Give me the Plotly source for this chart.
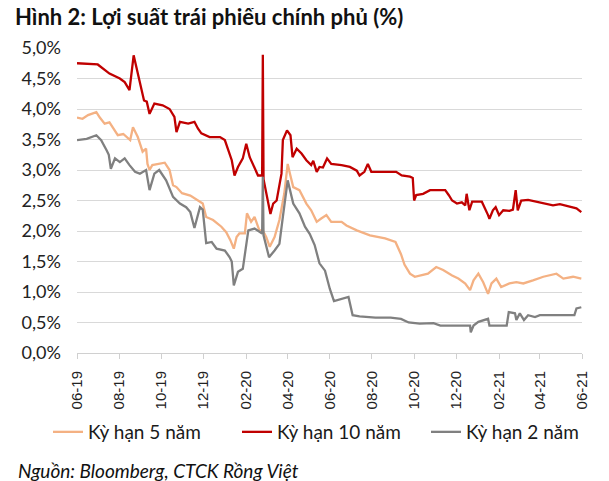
import plotly.graph_objects as go

# ---- data (yield, %) ----
dates_10y = ["2019-06-01","2019-07-01","2019-07-18","2019-08-02","2019-08-09","2019-08-16","2019-08-22","2019-08-28",
             "2019-09-06","2019-09-10","2019-09-14","2019-09-21","2019-10-03","2019-10-13","2019-10-20","2019-10-23",
             "2019-10-28","2019-11-09","2019-11-18","2019-11-23","2019-11-28","2019-12-10","2019-12-25","2020-01-01",
             "2020-01-08","2020-01-11","2020-01-15","2020-01-20","2020-01-27","2020-02-01","2020-02-06","2020-02-13",
             "2020-02-18","2020-02-24","2020-02-25","2020-02-26","2020-03-05","2020-03-07","2020-03-11","2020-03-16",
             "2020-03-23","2020-03-25","2020-03-31","2020-04-05","2020-04-08","2020-04-14","2020-04-21","2020-04-28",
             "2020-05-05","2020-05-08","2020-05-13","2020-05-17","2020-05-22","2020-05-28","2020-06-03","2020-06-18",
             "2020-06-30","2020-07-10","2020-07-14","2020-07-21","2020-07-26","2020-07-31","2020-08-12","2020-09-05",
             "2020-09-13","2020-09-25","2020-09-29","2020-10-01","2020-10-04","2020-10-14","2020-10-24","2020-10-31",
             "2020-11-10","2020-11-15","2020-11-20","2020-11-25","2020-12-02","2020-12-09","2020-12-14","2020-12-16",
             "2020-12-20","2020-12-24","2021-01-07","2021-01-11","2021-01-16","2021-01-18","2021-01-23","2021-01-27",
             "2021-02-01","2021-02-07","2021-02-16","2021-02-21","2021-02-25","2021-02-28","2021-03-05","2021-03-15",
             "2021-03-27","2021-04-10","2021-04-20","2021-04-30","2021-05-14","2021-05-24","2021-05-31"]
yield_10y = [4.75,4.73,4.58,4.50,4.44,4.31,4.88,4.58,
             4.14,4.12,3.92,4.09,4.06,4.00,3.87,3.62,
             3.79,3.76,3.79,3.68,3.60,3.54,3.54,3.49,
             3.27,3.16,2.91,3.05,3.19,3.43,3.21,3.05,
             2.91,2.91,4.89,2.85,2.39,2.28,2.45,2.50,
             2.94,3.49,3.65,3.57,3.21,3.35,3.27,3.16,
             3.08,3.15,2.97,3.05,3.04,3.19,3.10,3.08,
             3.05,2.99,2.91,2.97,3.10,2.97,2.97,2.97,
             2.91,2.89,2.87,2.50,2.59,2.61,2.67,2.67,
             2.68,2.67,2.59,2.50,2.45,2.47,2.42,2.61,
             2.34,2.48,2.48,2.39,2.26,2.20,2.34,2.39,
             2.26,2.34,2.33,2.35,2.67,2.34,2.50,2.51,
             2.48,2.45,2.42,2.44,2.40,2.37,2.31]

dates_5y = ["2019-06-01","2019-06-09","2019-06-17","2019-06-29","2019-07-04","2019-07-11","2019-07-18","2019-07-23",
            "2019-07-30","2019-08-07","2019-08-14","2019-08-17","2019-08-21","2019-08-28","2019-09-04","2019-09-09",
            "2019-09-11","2019-09-14","2019-09-18","2019-09-26","2019-10-06","2019-10-13","2019-10-18","2019-10-23",
            "2019-10-31","2019-11-12","2019-11-23","2019-11-30","2019-12-05","2019-12-15","2019-12-27","2020-01-03",
            "2020-01-09","2020-01-14","2020-01-18","2020-01-22","2020-01-30","2020-02-02","2020-02-08","2020-02-13",
            "2020-02-20","2020-02-25","2020-03-01","2020-03-06","2020-03-13","2020-03-20","2020-03-27","2020-04-01",
            "2020-04-04","2020-04-09","2020-04-18","2020-04-28","2020-05-05","2020-05-13","2020-05-19","2020-05-27",
            "2020-06-03","2020-06-18","2020-06-25","2020-07-10","2020-07-29","2020-08-20","2020-09-04","2020-09-12",
            "2020-09-17","2020-09-25","2020-10-02","2020-10-09","2020-10-21","2020-11-02","2020-11-12","2020-11-25",
            "2020-12-04","2020-12-14","2020-12-21","2020-12-26","2021-01-02","2021-01-09","2021-01-16","2021-01-21",
            "2021-01-28","2021-02-04","2021-02-16","2021-02-26","2021-03-08","2021-03-22","2021-04-06","2021-04-25",
            "2021-05-05","2021-05-19","2021-05-31"]
yield_5y = [3.86,3.84,3.90,3.95,3.86,3.76,3.78,3.70,
            3.57,3.59,3.51,3.49,3.70,3.54,3.30,3.35,
            3.10,3.00,3.08,3.10,3.12,3.00,2.75,2.72,
            2.62,2.58,2.50,2.45,2.23,2.18,2.07,1.98,
            1.85,1.71,1.90,1.96,1.96,2.29,2.15,2.23,
            2.01,2.01,1.90,1.74,1.90,2.18,2.61,3.10,
            2.95,2.72,2.67,2.45,2.34,2.15,2.20,2.26,
            2.15,2.15,2.09,2.01,1.93,1.88,1.82,1.62,
            1.45,1.30,1.25,1.27,1.30,1.41,1.36,1.27,
            1.22,1.14,1.03,1.19,1.30,1.16,0.97,1.14,
            1.22,1.08,1.14,1.16,1.14,1.19,1.25,1.30,
            1.22,1.25,1.22]

dates_2y = ["2019-06-01","2019-06-15","2019-06-29","2019-07-06","2019-07-14","2019-07-17","2019-07-20","2019-07-26",
            "2019-08-02","2019-08-09","2019-08-16","2019-08-24","2019-08-31","2019-09-09","2019-09-14","2019-09-21",
            "2019-09-28","2019-10-08","2019-10-18","2019-10-28","2019-11-06","2019-11-12","2019-11-18","2019-11-26",
            "2019-11-30","2019-12-05","2019-12-13","2019-12-20","2020-01-01","2020-01-08","2020-01-11","2020-01-14",
            "2020-01-20","2020-01-27","2020-02-04","2020-02-13","2020-02-24","2020-02-25","2020-02-26","2020-03-05",
            "2020-03-13","2020-03-20","2020-03-25","2020-04-01","2020-04-09","2020-04-18","2020-04-26","2020-05-03",
            "2020-05-10","2020-05-17","2020-05-25","2020-06-01","2020-06-07","2020-06-16","2020-06-28","2020-07-04",
            "2020-07-14","2020-08-06","2020-08-28","2020-09-12","2020-09-23","2020-10-09","2020-10-29","2020-11-08",
            "2020-12-21","2020-12-22","2020-12-26","2021-01-02","2021-01-09","2021-01-16","2021-01-18","2021-02-12",
            "2021-02-15","2021-02-24","2021-02-26","2021-03-03","2021-03-09","2021-03-15","2021-03-25","2021-04-01",
            "2021-05-21","2021-05-24","2021-05-31"]
yield_2y = [3.49,3.51,3.57,3.49,3.32,3.25,3.02,3.19,
            3.13,3.19,3.08,2.97,2.94,3.00,2.67,2.94,
            3.00,2.83,2.56,2.45,2.39,2.31,2.05,2.39,
            2.35,1.80,1.82,1.71,1.68,1.57,1.50,1.11,
            1.33,1.38,2.01,2.04,1.96,2.89,1.93,1.57,
            1.68,1.79,2.23,2.83,2.45,2.29,2.07,1.95,
            1.77,1.47,1.35,1.05,0.85,0.88,0.92,0.62,
            0.60,0.58,0.58,0.56,0.50,0.48,0.49,0.45,
            0.45,0.34,0.45,0.51,0.54,0.56,0.45,0.45,
            0.67,0.65,0.54,0.65,0.54,0.62,0.59,0.62,
            0.62,0.73,0.75]

series_names = ["Kỳ hạn 5 năm", "Kỳ hạn 10 năm", "Kỳ hạn 2 năm"]
series_colors = ["#F4B183", "#C00000", "#808080"]

y_tickvals = [0, 0.5, 1.0, 1.5, 2.0, 2.5, 3.0, 3.5, 4.0, 4.5, 5.0]
y_ticktext = ["0,0%", "0,5%", "1,0%", "1,5%", "2,0%", "2,5%", "3,0%", "3,5%", "4,0%", "4,5%", "5,0%"]

title_text = "Hình 2: Lợi suất trái phiếu chính phủ (%)"
source_text = "Nguồn: Bloomberg, CTCK Rồng Việt"

# ---- figure ----
fig = go.Figure()
data_sets = [(dates_5y, yield_5y), (dates_10y, yield_10y), (dates_2y, yield_2y)]
for (d, v), name, color in zip(data_sets, series_names, series_colors):
    fig.add_trace(go.Scatter(x=d, y=v, mode="lines", name=name,
                             line=dict(color=color, width=2.3)))

# page body adds an 8px offset, so the figure is laid out 8px smaller
W, H = 601, 473
L, R, T, B = 69, 27, 40, 128
PW, PH = W - L - R, H - T - B

FONT = "Lato, Open Sans, sans-serif"

fig.update_layout(
    width=W, height=H,
    margin=dict(l=L, r=R, t=T, b=B, autoexpand=False),
    paper_bgcolor="white", plot_bgcolor="white",
    showlegend=True,
    title=dict(text=title_text, xref="container", yref="container",
               x=7 / W, xanchor="left", y=1 - 9.5 / H, yanchor="middle",
               font=dict(family=FONT, size=22, color="#111111", weight="bold")),
    legend=dict(orientation="h", xref="paper", yref="paper",
                x=(40 - L) / PW, xanchor="left", y=(H - B - 424) / PH, yanchor="middle",
                font=dict(family=FONT, size=19, color="#1a1a1a"),
                bgcolor="rgba(0,0,0,0)", borderwidth=0,
                entrywidth=144, entrywidthmode="pixels", traceorder="normal"),
    xaxis=dict(
        type="date",
        range=["2019-06-01", "2021-06-01"],
        tick0="2019-06-01", dtick="M2", tickformat="%m-%y",
        tickangle=-90,
        showgrid=False, showline=True, linecolor="#D0D0D0", linewidth=1,
        ticks="outside", ticklen=5, tickcolor="#D0D0D0",
        tickfont=dict(family="Liberation Sans, Arial, sans-serif", size=15, color="#222222"),
        ticklabelstandoff=6,
        zeroline=False,
    ),
    yaxis=dict(
        range=[0, 5], tickvals=y_tickvals, ticktext=y_ticktext,
        showgrid=True, gridcolor="#D9D9D9", gridwidth=1,
        showline=False, zeroline=False, ticks="",
        tickfont=dict(family=FONT, size=18, color="#222222"),
        ticklabelstandoff=15,
    ),
    annotations=[dict(text=source_text, xref="paper", yref="paper",
                      x=(8 - L) / PW, y=(H - B - 462) / PH,
                      xanchor="left", yanchor="middle", showarrow=False,
                      font=dict(family=FONT, size=19, color="#111111", style="italic"))],
)

fig.write_html("out.html")
